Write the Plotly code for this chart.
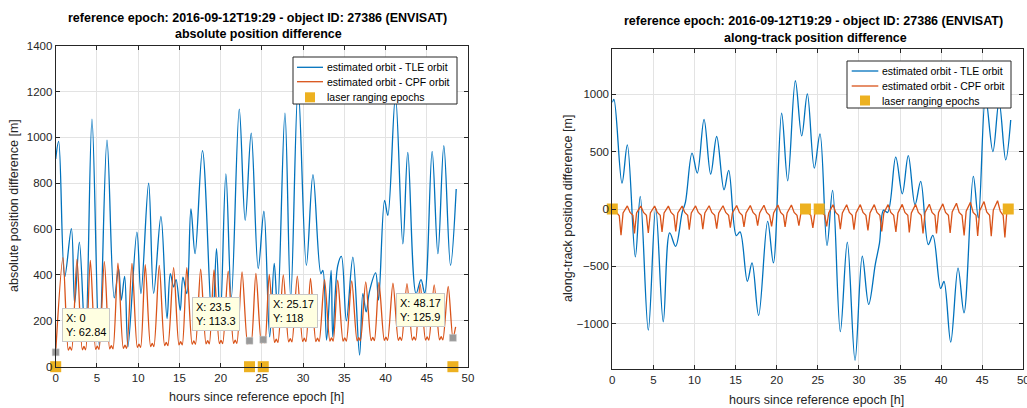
import plotly.graph_objects as go

# ---------------- data ----------------
title_line1 = "reference epoch: 2016-09-12T19:29 - object ID: 27386 (ENVISAT)"
title_left = "absolute position difference"
title_right = "along-track position difference"
x_label = "hours since reference epoch [h]"
y_label_left = "absolute position difference [m]"
y_label_right = "along-track position difference [m]"
name_tle = "estimated orbit - TLE orbit"
name_cpf = "estimated orbit - CPF orbit"
name_laser = "laser ranging epochs"

x_ticks = [0, 5, 10, 15, 20, 25, 30, 35, 40, 45, 50]
y_ticks_left = [0, 200, 400, 600, 800, 1000, 1200, 1400]
y_ticks_right = [-1000, -500, 0, 500, 1000]

# laser ranging epochs [h]
laser_t = [0.0, 23.5, 25.17, 48.17]
laser_v = [0, 0, 0, 0]

# data tips (absolute difference, CPF)
tip_x = [0, 23.5, 25.17, 48.17]
tip_y = [62.84, 113.3, 118, 125.9]
tip_x_text = ["0", "23.5", "25.17", "48.17"]
tip_y_text = ["62.84", "113.3", "118", "125.9"]

# absolute position difference, TLE
tle_abs_t = [0.0, 0.36, 1.09, 1.9, 2.3, 2.87, 3.6, 4.4, 5.29, 6.22, 7.1, 7.63, 7.95, 8.36,
             8.76, 9.85, 10.34, 11.27, 11.88, 12.76, 13.5, 13.9, 14.3, 14.6, 15.1, 15.43,
             15.9, 16.4, 16.9, 17.8, 19.0, 19.5, 19.95, 20.64, 21.3, 22.26, 22.98, 23.71,
             24.56, 25.25, 25.95, 26.5, 26.9, 27.8, 28.5, 29.4, 30.4, 31.2, 32.16, 32.4,
             32.85, 33.4, 33.6, 34.2, 34.65, 35.25, 36.04, 36.85, 37.25, 37.65, 38.06,
             38.8, 39.15, 39.88, 40.28, 41.2, 42.1, 42.7, 43.7, 44.3, 44.75, 45.65, 46.35,
             47.07, 47.88, 48.57]
tle_abs_v = [906, 983, 391, 602, 276, 543, 110, 1080, 90, 988, 300, 428, 290, 394,
             87, 587, 319, 800, 320, 655, 210, 406, 348, 380, 246, 391,
             319, 688, 493, 942, 160, 515, 200, 841, 300, 1123, 638, 1019,
             428, 678, 130, 450, 250, 1106, 300, 1220, 442, 838, 406, 420,
             116, 420, 130, 440, 481, 200, 478, 51, 319, 239, 330,
             409, 290, 725, 660, 1180, 536, 935, 319, 380, 320, 939, 493,
             964, 442, 775]

# absolute position difference, CPF
cpf_abs_t = [0.0,
             0.88, 1.53, 1.73, 1.93,
             2.58, 3.23, 3.43, 3.63,
             4.2, 4.85, 5.05, 5.25,
             5.9, 6.55, 6.75, 6.95,
             7.55, 8.2, 8.4, 8.6,
             9.25, 9.9, 10.1, 10.3,
             10.86, 11.51, 11.71, 11.91,
             12.56, 13.21, 13.41, 13.61,
             14.3, 14.95, 15.15, 15.35,
             15.9, 16.55, 16.75, 16.95,
             17.58, 18.23, 18.43, 18.63,
             19.2, 19.85, 20.05, 20.25,
             20.92, 21.57, 21.77, 21.97,
             22.6, 23.28, 23.5, 23.7,
             24.28, 24.95, 25.17, 25.37,
             25.9, 26.55, 26.75, 26.95,
             27.6, 28.25, 28.45, 28.65,
             29.3, 29.95, 30.15, 30.35,
             30.9, 31.55, 31.75, 31.95,
             32.6, 33.25, 33.45, 33.65,
             34.2, 34.85, 35.05, 35.25,
             35.9, 36.55, 36.75, 36.95,
             37.6, 38.25, 38.45, 38.65,
             39.2, 39.85, 40.05, 40.25,
             40.9, 41.55, 41.75, 41.95,
             42.6, 43.25, 43.45, 43.65,
             44.2, 44.85, 45.05, 45.25,
             45.9, 46.55, 46.75, 46.95,
             47.6, 48.17, 48.5]
cpf_abs_v = [62.84,
             476, 72, 86, 72,
             468, 74, 88, 74,
             464, 76, 90, 76,
             458, 78, 92, 78,
             452, 80, 94, 80,
             450, 84, 98, 84,
             445, 88, 102, 88,
             442, 92, 106, 92,
             432, 95, 109, 95,
             432, 98, 112, 98,
             425, 100, 114, 100,
             422, 101, 115, 101,
             417, 102, 116, 102,
             414, 100, 113.3, 101,
             407, 104, 118, 104,
             403, 106, 120, 106,
             400, 108, 122, 108,
             395, 110, 124, 110,
             385, 110, 124, 110,
             380, 112, 126, 112,
             377, 112, 126, 112,
             374, 113, 127, 113,
             370, 114, 128, 114,
             368, 115, 129, 115,
             364, 115, 129, 115,
             362, 116, 130, 116,
             359, 116, 130, 116,
             357, 117, 131, 117,
             350, 125.9, 174]

# along-track position difference, TLE
tle_al_t = [0.0, 0.2, 1.18, 1.83, 2.8, 3.4, 4.38, 5.28, 6.2, 6.98, 7.7, 8.5, 8.9, 9.7,
            10.34, 11.16, 11.97, 12.7, 13.59, 14.16, 15.09, 15.54, 16.43, 17.0, 17.8,
            18.9, 19.6, 20.6, 21.34, 22.27, 23.04, 23.73, 24.57, 25.27, 26.12, 26.8,
            27.74, 28.59, 29.53, 30.41, 31.19, 32.0, 32.5, 33.0, 33.5, 34.48, 35.28,
            36.01, 36.83, 37.52, 38.44, 39.0, 39.95, 40.35, 41.17, 42.06, 42.79, 43.92,
            44.53, 45.4, 46.3, 47.05, 47.86, 48.47]
tle_al_v = [930, 955, 226, 559, -417, 110, -1056, 10, -983, -209, -325, -30, 60, 487,
            313, 782, 304, 632, 168, 336, -232, -200, -630, -470, -928,
            -108, -470, 835, 246, 1118, 637, 1003, 356, 655, -319, 162,
            -1070, -290, -1319, -412, -832, -480, -300, -10, -30, 452, 133,
            466, 37, 240, -310, -230, -693, -632, -1160, -516, -905, 284,
            -78, 980, 501, 936, 428, 776]

# along-track position difference, CPF
cpf_al_t = [0.0, 0.5, 0.85,
            1.06, 1.31, 1.83, 2.16, 2.51,
            2.70, 2.95, 3.47, 3.80, 4.15,
            4.38, 4.63, 5.15, 5.48, 5.83,
            6.05, 6.30, 6.82, 7.15, 7.50,
            7.72, 7.97, 8.49, 8.82, 9.17,
            9.36, 9.61, 10.13, 10.46, 10.81,
            11.01, 11.26, 11.78, 12.11, 12.46,
            12.70, 12.95, 13.47, 13.80, 14.15,
            14.36, 14.61, 15.13, 15.46, 15.81,
            16.02, 16.27, 16.79, 17.12, 17.47,
            17.68, 17.93, 18.45, 18.78, 19.13,
            19.38, 19.63, 20.15, 20.48, 20.83,
            21.02, 21.27, 21.79, 22.12, 22.47,
            22.70, 22.95, 23.47, 23.80, 24.15,
            24.40, 24.65, 25.17, 25.50, 25.85,
            26.08, 26.33, 26.85, 27.18, 27.53,
            27.74, 27.99, 28.51, 28.84, 29.19,
            29.40, 29.65, 30.17, 30.50, 30.85,
            31.10, 31.35, 31.87, 32.20, 32.55,
            32.78, 33.03, 33.55, 33.88, 34.23,
            34.50, 34.75, 35.27, 35.60, 35.95,
            36.13, 36.38, 36.90, 37.23, 37.58,
            37.80, 38.05, 38.57, 38.90, 39.25,
            39.44, 39.69, 40.21, 40.54, 40.89,
            41.10, 41.35, 41.87, 42.20, 42.55,
            42.80, 43.05, 43.57, 43.90, 44.25,
            44.45, 44.70, 45.22, 45.55, 45.90,
            46.10, 46.35, 46.87, 47.20, 47.55,
            47.76, 48.01, 48.5]
cpf_al_v = [0, -30, -60,
            -229, -35, 27, -30, -55,
            -214, -35, 25, -30, -55,
            -209, -35, 25, -30, -55,
            -200, -35, 25, -30, -55,
            -196, -35, 25, -30, -55,
            -180, -35, 27, -30, -55,
            -175, -35, 28, -30, -55,
            -171, -35, 28, -30, -55,
            -162, -35, 30, -30, -55,
            -157, -35, 30, -30, -55,
            -145, -35, 33, -30, -55,
            -151, -35, 35, -30, -55,
            -157, -35, 35, -30, -55,
            -145, -35, 36, -30, -55,
            -165, -35, 36, -30, -55,
            -151, -35, 37, -30, -55,
            -175, -35, 37, -30, -55,
            -180, -35, 38, -30, -55,
            -186, -35, 38, -30, -55,
            -196, -35, 38, -30, -55,
            -200, -35, 40, -30, -55,
            -205, -35, 40, -30, -55,
            -214, -30, 42, -30, -55,
            -214, -30, 45, -30, -55,
            -209, -25, 50, -30, -55,
            -230, -20, 58, -30, -55,
            -235, -15, 65, -25, -55,
            -238, -10, 72, -20, -55,
            -248, -10, 0]

# ---------------- styling ----------------
BLUE = "#0072BD"
ORANGE = "#D95319"
YELLOW = "#EDB120"
AX = "#262626"
GRID = "#E3E3E3"
FONT = "Liberation Sans, Arial, Helvetica, sans-serif"
W, H = 1027, 408

fig = go.Figure()

# left axes
fig.add_trace(go.Scatter(x=tle_abs_t, y=tle_abs_v, mode="lines", name=name_tle,
                         line=dict(color=BLUE, width=1.3, shape="spline", smoothing=1.0),
                         xaxis="x", yaxis="y", showlegend=False))
fig.add_trace(go.Scatter(x=cpf_abs_t, y=cpf_abs_v, mode="lines", name=name_cpf,
                         line=dict(color=ORANGE, width=1.3, shape="spline", smoothing=0.8),
                         xaxis="x", yaxis="y", showlegend=False))
fig.add_trace(go.Scatter(x=laser_t, y=laser_v, mode="markers", name=name_laser,
                         marker=dict(symbol="square", size=11, color=YELLOW),
                         cliponaxis=False, xaxis="x", yaxis="y", showlegend=False))
fig.add_trace(go.Scatter(x=tip_x, y=tip_y, mode="markers", showlegend=False,
                         marker=dict(symbol="square", size=7, color="#9A9A9A",
                                     line=dict(color="#D0D0D0", width=0.5)),
                         cliponaxis=False, xaxis="x", yaxis="y"))

# right axes
fig.add_trace(go.Scatter(x=tle_al_t, y=tle_al_v, mode="lines", name=name_tle,
                         line=dict(color=BLUE, width=1.3, shape="spline", smoothing=1.0),
                         xaxis="x2", yaxis="y2", showlegend=False))
fig.add_trace(go.Scatter(x=cpf_al_t, y=cpf_al_v, mode="lines", name=name_cpf,
                         line=dict(color=ORANGE, width=1.3),
                         xaxis="x2", yaxis="y2", showlegend=False))
fig.add_trace(go.Scatter(x=laser_t, y=laser_v, mode="markers", name=name_laser,
                         marker=dict(symbol="square", size=11, color=YELLOW),
                         cliponaxis=False, xaxis="x2", yaxis="y2", showlegend=False))

axis_common = dict(showline=True, linecolor=AX, linewidth=1, mirror="ticks",
                   ticks="inside", ticklen=4, tickcolor=AX, tickwidth=1,
                   showgrid=True, gridcolor=GRID, gridwidth=1, zeroline=False,
                   automargin=False, ticklabeloverflow="allow",
                   tickfont=dict(family=FONT, size=11.5, color=AX))

L_dom_x = [55.7 / W, 468 / W]
R_dom_x = [612.3 / W, 1023.3 / W]
L_dom_y = [1 - 366.7 / H, 1 - 45.7 / H]
R_dom_y = [1 - 369 / H, 1 - 49 / H]

fig.update_layout(
    width=W, height=H,
    margin=dict(l=0, r=0, t=0, b=0, pad=0, autoexpand=False),
    paper_bgcolor="white", plot_bgcolor="white",
    font=dict(family=FONT, color=AX),
    xaxis=dict(domain=L_dom_x, range=[0, 50], tickvals=x_ticks, anchor="y", **axis_common),
    yaxis=dict(domain=L_dom_y, range=[0, 1400], tickvals=y_ticks_left, anchor="x", **axis_common),
    xaxis2=dict(domain=R_dom_x, range=[0, 50], tickvals=x_ticks, anchor="y2", **axis_common),
    yaxis2=dict(domain=R_dom_y, range=[-1395, 1395], tickvals=y_ticks_right, anchor="x2", **axis_common),
    showlegend=False,
)

ann = []
shapes = []

def px_x(px):
    return px / W

def px_y(py):
    return 1 - py / H

def text_at(px, py, text, size, bold=False, angle=0, xanchor="center", color=None):
    ann.append(dict(x=px_x(px), y=px_y(py), xref="paper", yref="paper",
                    text=("<b>%s</b>" % text) if bold else text, showarrow=False,
                    xanchor=xanchor, yanchor="middle", textangle=angle,
                    font=dict(family=FONT, size=size,
                              color=color or ("black" if bold else AX))))

text_at(257, 18.5, title_line1, 12.5, bold=True)
text_at(258, 33.5, title_left, 12.5, bold=True)
text_at(813, 21, title_line1, 12.5, bold=True)
text_at(815, 38, title_right, 12.5, bold=True)
text_at(256, 397, x_label, 12.5)
text_at(816, 400, x_label, 12.5)
text_at(14, 206, y_label_left, 12.5, angle=-90)
text_at(568, 209, y_label_right, 12.5, angle=-90)

# hand-drawn legends (box, samples, labels) in pixel positions
def legend_at(x0, y0, x1, y1, line_x0, line_x1, rows, text_x):
    shapes.append(dict(type="rect", xref="paper", yref="paper", layer="above",
                       x0=px_x(x0), x1=px_x(x1), y0=px_y(y1), y1=px_y(y0),
                       fillcolor="white", line=dict(color=AX, width=1)))
    for ry, color in zip(rows[:2], [BLUE, ORANGE]):
        shapes.append(dict(type="line", xref="paper", yref="paper", layer="above",
                           x0=px_x(line_x0), x1=px_x(line_x1), y0=px_y(ry), y1=px_y(ry),
                           line=dict(color=color, width=1.3)))
    cx = (line_x0 + line_x1) / 2
    shapes.append(dict(type="rect", xref="paper", yref="paper", layer="above",
                       x0=px_x(cx - 5), x1=px_x(cx + 5), y0=px_y(rows[2] + 5), y1=px_y(rows[2] - 5),
                       fillcolor=YELLOW, line=dict(width=0)))
    for ry, label in zip(rows, [name_tle, name_cpf, name_laser]):
        text_at(text_x, ry, label, 10.5, xanchor="left", color="black")

legend_at(293, 57, 457, 104, 297, 323, [67.3, 81.7, 97.3], 325)
legend_at(847, 61, 1011, 108, 851.7, 878.3, [71, 86, 100.5], 880)

# data tip boxes (left edge / top in data units)
tip_box_x = [0.76, 16.5, 25.85, 41.25]
tip_box_y = [255, 303, 316, 320]
for bx, by, tx, ty in zip(tip_box_x, tip_box_y, tip_x_text, tip_y_text):
    ann.append(dict(x=bx, y=by, xref="x", yref="y", xanchor="left", yanchor="top",
                    text="X: %s<br>Y: %s" % (tx, ty), showarrow=False, align="left",
                    bgcolor="#FFFFE1", bordercolor="#C8C8C8", borderwidth=1, borderpad=3,
                    font=dict(family=FONT, size=11, color="black")))

fig.update_layout(annotations=ann, shapes=shapes)
fig.write_html("out.html", config={"displayModeBar": False},
               post_script="document.body.style.margin='0';document.body.style.overflow='hidden';")
